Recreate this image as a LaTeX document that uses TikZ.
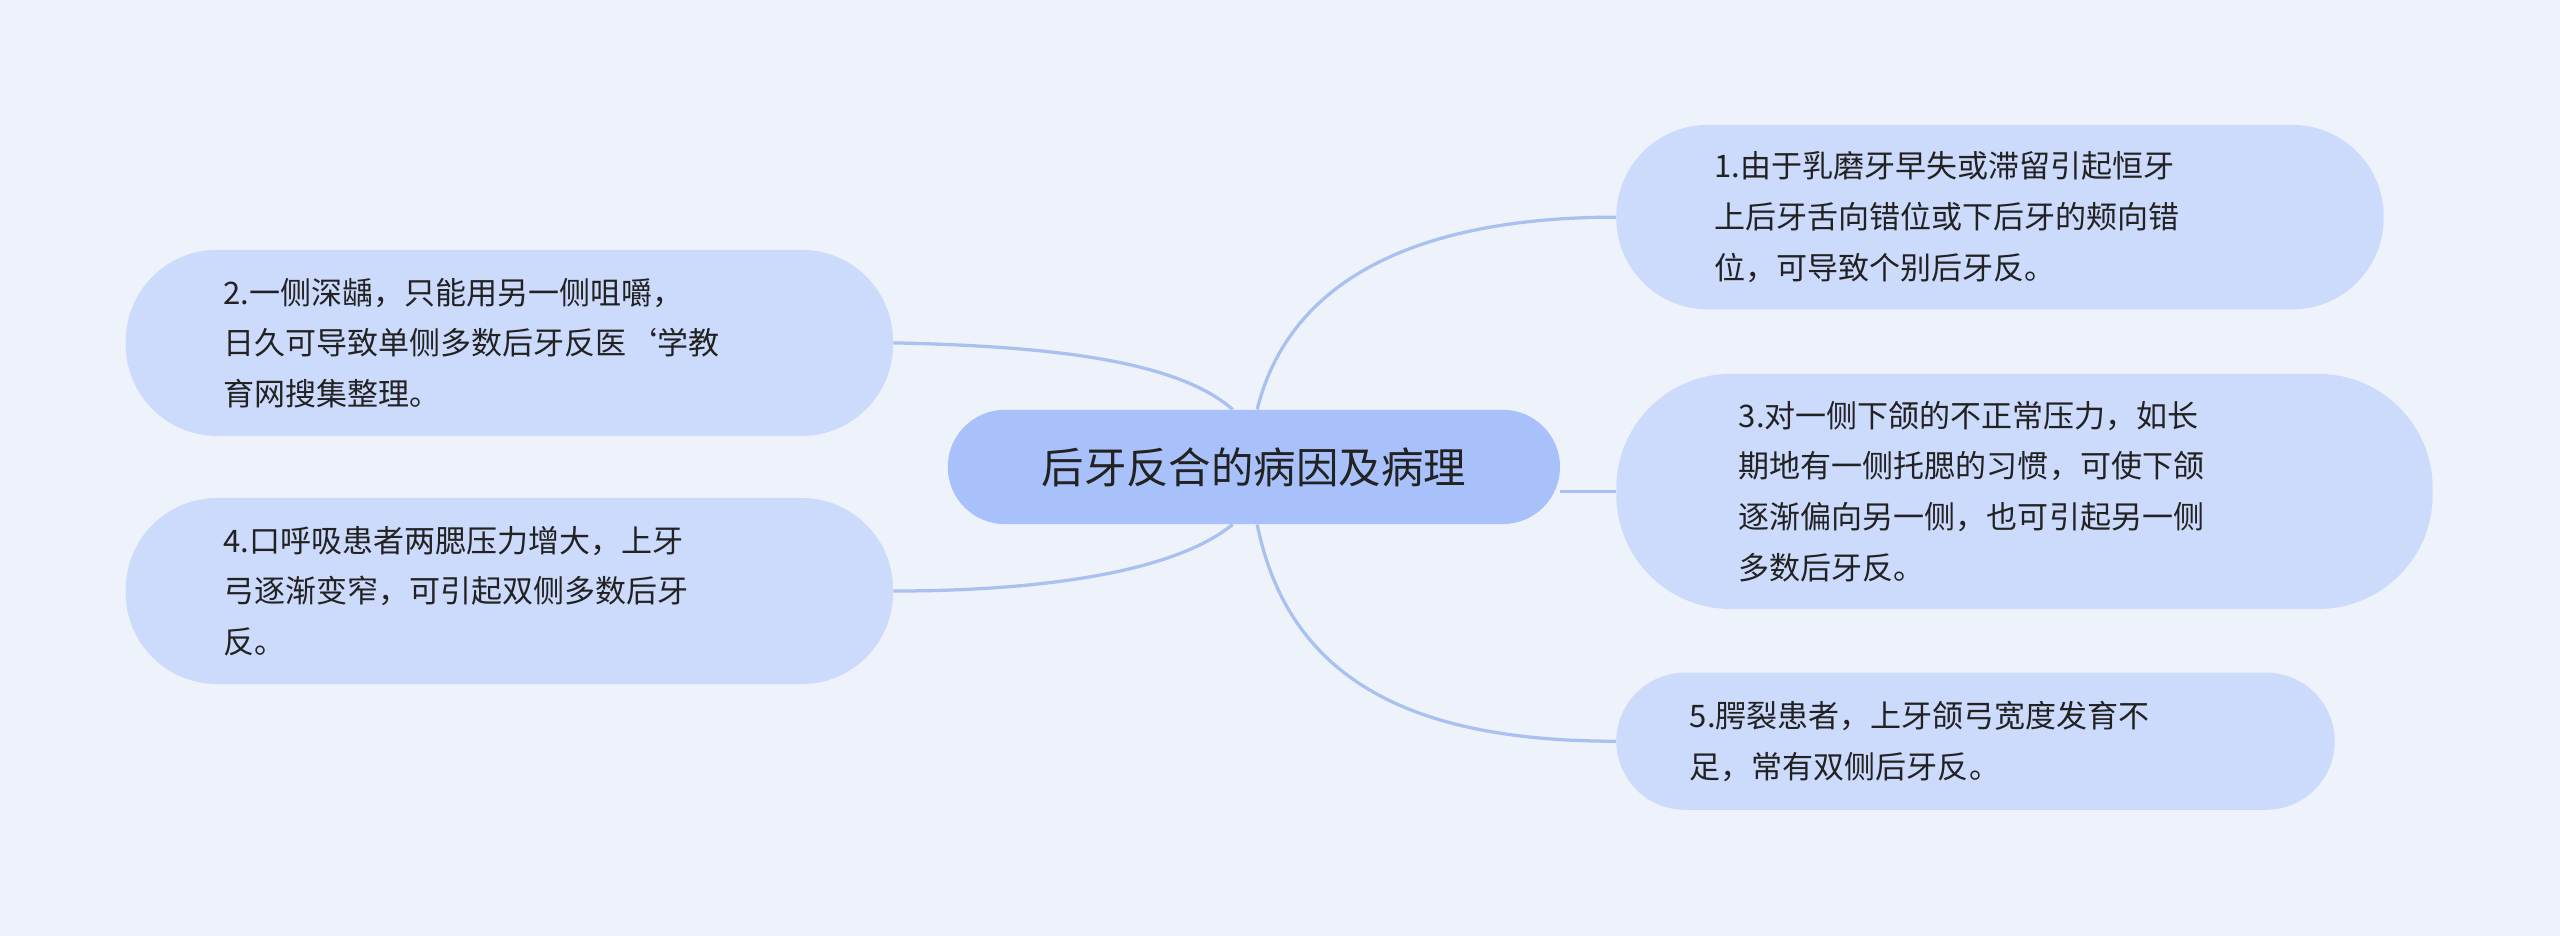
\documentclass[tikz,border=0pt]{standalone}
\usepackage{fontspec}
\setmainfont{Noto Sans CJK SC}
\definecolor{bg}{HTML}{EEF2FB}
\definecolor{leaf}{HTML}{CCDAFB}
\definecolor{root}{HTML}{A9C1FA}
\definecolor{edge}{HTML}{A9C1F0}
\definecolor{txt}{HTML}{222222}
\begin{document}
\begin{tikzpicture}[x=1pt,y=-1pt,
  leafbox/.style={fill=leaf,rounded corners=45pt,text=txt,align=left,font=\fontsize{19pt}{31pt}\selectfont,inner sep=0pt},
  conn/.style={draw=edge,line width=2pt}]
\fill[bg] (0,0) rectangle (1568,573);
\useasboundingbox (0,0) rectangle (1568,573);
\node[fill=root,rounded corners=35pt,minimum width=375pt,minimum height=70pt,font=\fontsize{26pt}{30pt}\selectfont,text=txt] (c) at (768,286) {后牙反合的病因及病理};
\node[leafbox,minimum width=470pt,minimum height=113pt,text width=350pt,rounded corners=56pt] (n1) at (1225,133) {1.由于乳磨牙早失或滞留引起恒牙\\上后牙舌向错位或下后牙的颊向错\\位，可导致个别后牙反。};
\node[leafbox,minimum width=470pt,minimum height=114pt,text width=350pt,rounded corners=56pt] (n2) at (312,210) {2.一侧深龋，只能用另一侧咀嚼，\\日久可导致单侧多数后牙反医`学教\\育网搜集整理。};
\node[leafbox,minimum width=500pt,minimum height=144pt,text width=350pt,rounded corners=70pt] (n3) at (1240,301) {3.对一侧下颌的不正常压力，如长\\期地有一侧托腮的习惯，可使下颌\\逐渐偏向另一侧，也可引起另一侧\\多数后牙反。};
\node[leafbox,minimum width=470pt,minimum height=114pt,text width=350pt,rounded corners=56pt] (n4) at (312,362) {4.口呼吸患者两腮压力增大，上牙\\弓逐渐变窄，可引起双侧多数后牙\\反。};
\node[leafbox,minimum width=440pt,minimum height=84pt,text width=350pt,rounded corners=42pt] (n5) at (1210,454) {5.腭裂患者，上牙颌弓宽度发育不\\足，常有双侧后牙反。};
\draw[conn] ([xshift=2pt]c.north) .. controls (790,170) and (870,133) .. (n1.west);
\draw[conn] ([xshift=-13pt]c.north) .. controls (720,220) and (640,212) .. (n2.east);
\draw[conn] (c.east |- n3.west) -- (n3.west);
\draw[conn] ([xshift=-13pt]c.south) .. controls (720,350) and (640,362) .. (n4.east);
\draw[conn] ([xshift=2pt]c.south) .. controls (790,420) and (870,454) .. (n5.west);
\end{tikzpicture}
\end{document}
